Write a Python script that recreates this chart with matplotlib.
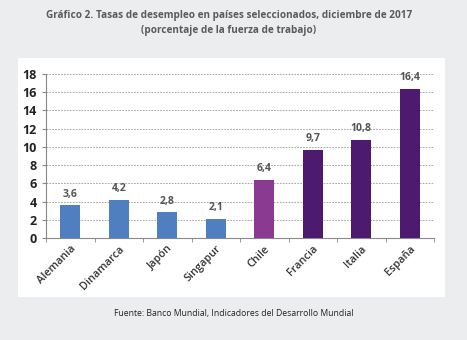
import numpy as np
import matplotlib.pyplot as plt
from matplotlib.patches import Rectangle

# data
countries = ["Alemania", "Dinamarca", "Japón", "Singapur", "Chile", "Francia", "Italia", "España"]
rates = [3.6, 4.2, 2.8, 2.1, 6.4, 9.7, 10.8, 16.4]
groups = ["asia_eu", "asia_eu", "asia_eu", "asia_eu", "chile", "sur", "sur", "sur"]

colors = {"asia_eu": "#4f7fc0", "chile": "#8b3a92", "sur": "#4e1a70"}

plt.rcParams["font.family"] = ["Open Sans", "DejaVu Sans"]

fig = plt.figure(figsize=(4.67, 3.40), dpi=100)
fig.patch.set_facecolor("#ecedef")

# white panel behind the chart
fig.patches.append(Rectangle((18 / 467, 43 / 340), 427 / 467, 239 / 340,
                             transform=fig.transFigure, facecolor="white",
                             edgecolor="none", zorder=0))

fig.text(0.49, 0.955, "Gráfico 2. Tasas de desempleo en países seleccionados, diciembre de 2017",
         ha="center", va="center", fontsize=7.2, fontweight="bold", color="#5a5a5a")
fig.text(0.49, 0.91, "(porcentaje de la fuerza de trabajo)",
         ha="center", va="center", fontsize=7.2, fontweight="bold", color="#5a5a5a")
fig.text(0.50, 0.078, "Fuente: Banco Mundial, Indicadores del Desarrollo Mundial",
         ha="center", va="center", fontsize=6.2, color="#222222")

ax = fig.add_axes([46 / 467, 102 / 340, 388 / 467, 164 / 340])
ax.set_facecolor("none")
ax.set_zorder(2)

x = np.arange(len(countries))
bar_colors = [colors[g] for g in groups]
ax.bar(x, rates, width=0.42, color=bar_colors, zorder=3)

for xi, v in zip(x, rates):
    ax.text(xi, v + 0.6, f"{v:.1f}".replace(".", ","), ha="center", va="bottom",
            fontsize=7.5, fontweight="bold", color="#555555")

ax.set_ylim(0, 18)
ax.set_xlim(-0.5, len(countries) - 0.5)
ax.set_yticks(np.arange(0, 19, 2))
ax.yaxis.grid(True, linestyle=(0, (2, 1.5)), color="#999999", linewidth=0.6, zorder=0)

ax.set_xticks(x)
ax.set_xticklabels(countries, rotation=45, ha="right", rotation_mode="anchor",
                   fontsize=7.8, fontweight="semibold", color="#333333")
ax.set_xticks(np.arange(-0.5, len(countries)), minor=True)
ax.tick_params(axis="x", which="major", length=0, pad=4)
ax.tick_params(axis="x", which="minor", length=3, color="#888888")
ax.tick_params(axis="y", length=3, color="#888888", labelsize=9, labelcolor="#222222")
for lbl in ax.get_yticklabels():
    lbl.set_fontweight("bold")

for side in ["top", "right"]:
    ax.spines[side].set_visible(False)
ax.spines["left"].set_color("#888888")
ax.spines["bottom"].set_color("#888888")

fig.savefig("out.png", dpi=100, facecolor=fig.get_facecolor())
